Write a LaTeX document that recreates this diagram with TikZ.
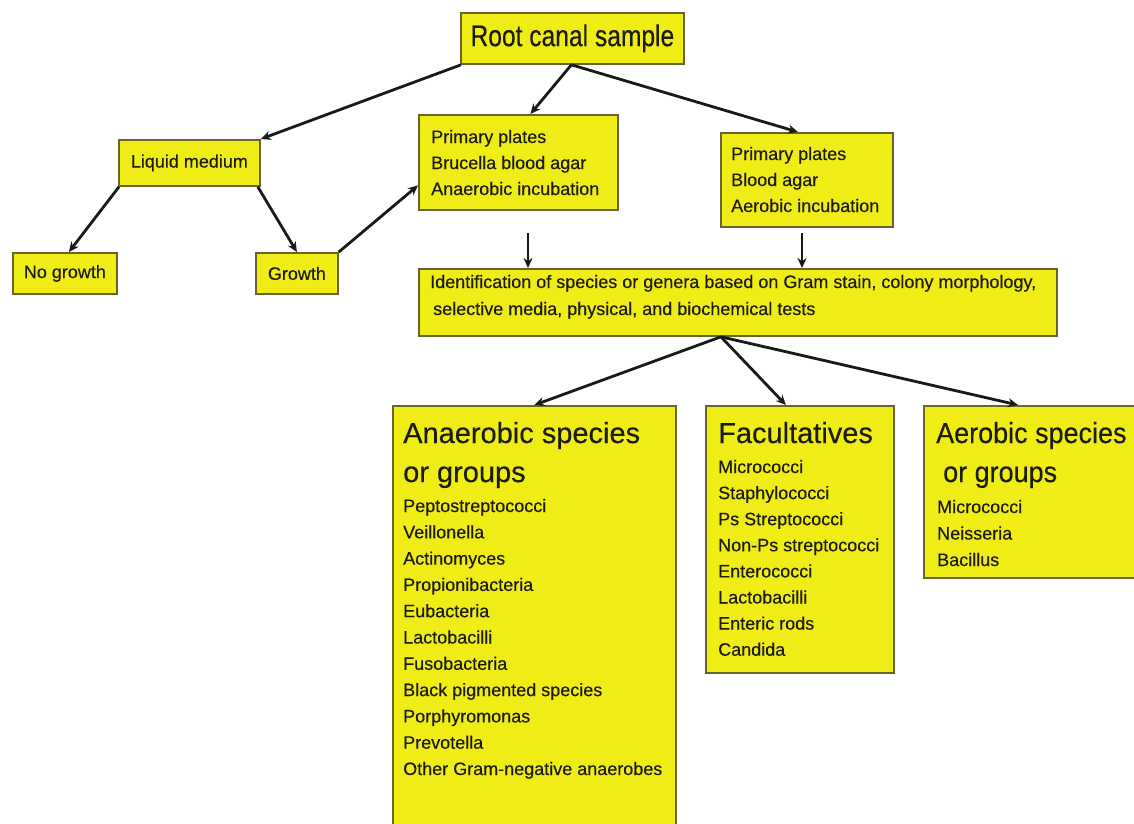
\documentclass[tikz,border=0pt]{standalone}
\usepackage{fontspec}
\setmainfont[FakeBold=0.3]{Liberation Sans}
\newfontfamily\narrowsans[FakeStretch=0.82,FakeBold=0.3]{Liberation Sans}
\newfontfamily\headnarrow[FakeStretch=0.93,FakeBold=0.3]{Liberation Sans}
\usetikzlibrary{arrows.meta,calc}
\definecolor{boxfill}{RGB}{240,236,22}
\definecolor{boxline}{RGB}{105,100,45}
\definecolor{txt}{RGB}{28,28,10}
\tikzset{
  box/.style={draw=boxline, fill=boxfill, line width=1.8pt, inner sep=0pt, anchor=north west, text=txt},
  small/.style={font=\fontsize{18}{22}\selectfont},
  item/.style={anchor=base west, inner sep=0pt, text=txt, font=\fontsize{18}{22}\selectfont},
  head/.style={anchor=base west, inner sep=0pt, text=txt, font=\fontsize{29}{34}\selectfont},
  conn/.style={line width=2.8pt, black!90, -{Stealth[length=10pt,width=9pt]}}
}
\begin{document}
\begin{tikzpicture}[x=1pt,y=-1pt]
\useasboundingbox[fill=white] (0,0) rectangle (1134,823);

% boxes
\node[box, minimum width=223pt, minimum height=51pt, font=\narrowsans\fontsize{30}{34}\selectfont] (root) at (460,12) {Root canal sample};
\node[box, small, minimum width=141pt, minimum height=46pt] (liquid) at (118,139) {Liquid medium};
\node[box, small, minimum width=104pt, minimum height=41pt] (nogrowth) at (12,252) {No growth};
\node[box, small, minimum width=82pt, minimum height=41pt] (growth) at (255,252) {Growth};
\node[box, minimum width=199pt, minimum height=95pt] (anaplates) at (418,114) {};
\node[box, minimum width=172pt, minimum height=94pt] (aeroplates) at (720,132) {};
\node[box, minimum width=638pt, minimum height=67pt] (ident) at (418,268) {};
\node[box, minimum width=283pt, minimum height=440pt] (anaspec) at (392,405) {};
\node[box, minimum width=188pt, minimum height=267pt] (facult) at (705,405) {};
\node[box, minimum width=230pt, minimum height=172pt] (aerospec) at (923,405) {};

% texts in plate boxes
\node[item] (ap1) at (431,143) {Primary plates};
\node[item] (ap2) at (431,169) {Brucella blood agar};
\node[item] (ap3) at (431,195) {Anaerobic incubation};
\node[item] (ep1) at (731,160) {Primary plates};
\node[item] (ep2) at (731,186) {Blood agar};
\node[item] (ep3) at (731,212) {Aerobic incubation};
\node[item] (id1) at (430,288) {Identification of species or genera based on Gram stain, colony morphology,};
\node[item] (id2) at (433,315) {selective media, physical, and biochemical tests};

% headers
\node[head] (h1a) at (403,443) {Anaerobic species};
\node[head] (h1b) at (403,482) {or groups};
\node[head] (h2) at (718,443) {Facultatives};
\node[head, font=\headnarrow\fontsize{29}{34}\selectfont] (h3a) at (936,443) {Aerobic species};
\node[head, font=\headnarrow\fontsize{29}{34}\selectfont] (h3b) at (943,482) {or groups};

% lists
\foreach \t [count=\i] in {Peptostreptococci, Veillonella, Actinomyces, Propionibacteria, Eubacteria, Lactobacilli, Fusobacteria, Black pigmented species, Porphyromonas, Prevotella, Other Gram-negative anaerobes}
  \node[item] (ana\i) at (403,{512+26.3*(\i-1)}) {\t};
\foreach \t [count=\i] in {Micrococci, Staphylococci, Ps Streptococci, Non-Ps streptococci, Enterococci, Lactobacilli, Enteric rods, Candida}
  \node[item] (fac\i) at (718,{473+26.1*(\i-1)}) {\t};
\foreach \t [count=\i] in {Micrococci, Neisseria, Bacillus}
  \node[item] (aer\i) at (937,{513+26.5*(\i-1)}) {\t};

% connectors
\draw[conn] ([xshift=1pt]root.south west) -- (liquid.north east);
\draw[conn] ([xshift=-1pt]root.south) -- ([xshift=12pt]anaplates.north);
\draw[conn] ([xshift=-1pt]root.south) -- ([xshift=-9pt]aeroplates.north);
\draw[conn] ([xshift=1pt]liquid.south west) -- ([xshift=4pt]nogrowth.north);
\draw[conn] ([xshift=-3pt]liquid.south east) -- (growth.north);
\draw[conn] (growth.north east) -- ([yshift=-23pt]anaplates.west);
\coordinate (d1) at (528,233);
\coordinate (d2) at (802,233);
\draw[conn] (d1) -- (d1 |- ident.north);
\draw[conn] (d2) -- (d2 |- ident.north);
\draw[conn] ([xshift=-17pt]ident.south) -- (anaspec.north);
\draw[conn] ([xshift=-17pt]ident.south) -- ([xshift=-14pt]facult.north);
\draw[conn] ([xshift=-17pt]ident.south) -- ([xshift=95pt]aerospec.north west);
\end{tikzpicture}
\end{document}
